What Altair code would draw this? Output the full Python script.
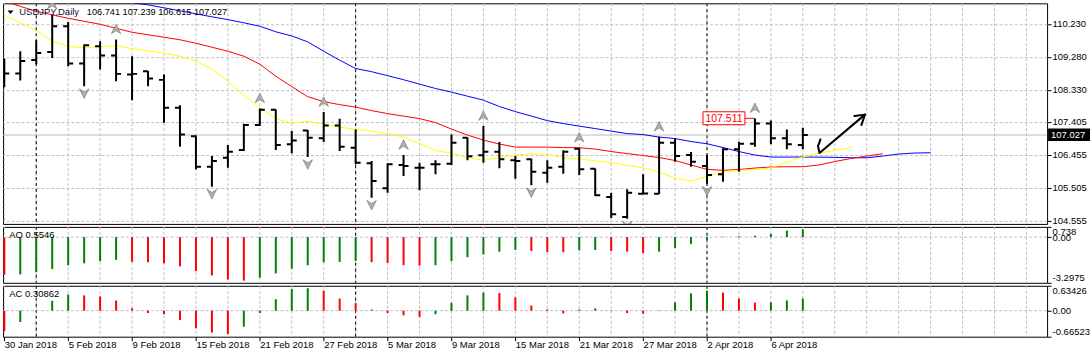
import altair as alt
import pandas as pd

# ---------------- data ----------------
dates = ["30 Jan 2018", "31 Jan 2018", "1 Feb 2018", "2 Feb 2018", "5 Feb 2018", "6 Feb 2018",
         "7 Feb 2018", "8 Feb 2018", "9 Feb 2018", "12 Feb 2018", "13 Feb 2018", "14 Feb 2018",
         "15 Feb 2018", "16 Feb 2018", "19 Feb 2018", "20 Feb 2018", "21 Feb 2018", "22 Feb 2018",
         "23 Feb 2018", "26 Feb 2018", "27 Feb 2018", "28 Feb 2018", "1 Mar 2018", "2 Mar 2018",
         "5 Mar 2018", "6 Mar 2018", "7 Mar 2018", "8 Mar 2018", "9 Mar 2018", "12 Mar 2018",
         "13 Mar 2018", "14 Mar 2018", "15 Mar 2018", "16 Mar 2018", "19 Mar 2018", "20 Mar 2018",
         "21 Mar 2018", "22 Mar 2018", "23 Mar 2018", "26 Mar 2018", "27 Mar 2018", "28 Mar 2018",
         "29 Mar 2018", "30 Mar 2018", "2 Apr 2018", "3 Apr 2018", "4 Apr 2018", "5 Apr 2018",
         "6 Apr 2018", "9 Apr 2018", "10 Apr 2018"]

opens = [108.750, 108.802, 109.194, 109.424, 110.164, 109.090, 109.588, 109.320, 108.773, 108.868,
         108.618, 107.812, 106.989, 106.114, 106.373, 106.594, 107.314, 107.754, 106.758, 107.161,
         106.931, 107.305, 106.660, 106.211, 105.492, 106.163, 106.085, 106.183, 106.200, 106.948,
         106.442, 106.545, 106.298, 106.326, 105.941, 106.114, 106.632, 106.056, 105.241, 104.665,
         105.336, 105.336, 106.804, 106.450, 106.134, 105.895, 106.614, 106.775, 107.363, 106.931,
         106.741]
highs = [109.234, 109.444, 109.761, 110.501, 110.288, 109.637, 109.732, 109.781, 109.300, 108.875,
         108.773, 107.889, 107.017, 106.421, 106.738, 107.351, 107.794, 107.766, 107.141, 107.170,
         107.688, 107.500, 107.190, 106.278, 106.211, 106.450, 106.229, 106.298, 107.046, 106.955,
         107.285, 106.824, 106.421, 106.344, 106.298, 106.585, 106.660, 106.065, 105.365, 105.463,
         105.895, 106.977, 106.931, 106.537, 106.450, 106.643, 106.833, 107.511, 107.449, 107.190,
         107.239]
lows = [108.408, 108.601, 109.070, 109.251, 109.012, 108.436, 108.917, 108.580, 108.033, 108.436,
        107.380, 106.689, 106.039, 105.538, 106.085, 106.565, 107.285, 106.594, 106.499, 106.393,
        106.824, 106.565, 106.183, 105.221, 105.365, 105.846, 105.434, 105.895, 106.163, 106.298,
        106.229, 106.067, 105.768, 105.578, 105.653, 105.912, 105.875, 105.270, 104.635, 104.615,
        105.330, 105.330, 106.257, 106.114, 105.624, 105.682, 105.970, 106.689, 106.758, 106.614,
        106.615]
closes = [108.802, 109.165, 109.395, 110.164, 109.090, 109.617, 109.320, 108.791, 108.791, 108.658,
          107.812, 107.046, 106.114, 106.278, 106.545, 107.314, 107.754, 106.738, 106.873, 106.948,
          107.305, 106.689, 106.229, 105.702, 106.183, 106.134, 106.085, 106.183, 106.804, 106.413,
          106.545, 106.326, 106.278, 105.970, 106.085, 106.545, 106.039, 105.290, 104.743, 105.365,
          105.340, 106.804, 106.421, 106.257, 105.875, 106.614, 106.775, 107.363, 106.931, 106.758,
          107.027]

# Alligator (values per bar, extending past the last bar)
jaw = [111.516, 111.430, 111.344, 111.257, 111.171, 111.084, 110.998, 110.912, 110.840, 110.782,
       110.696, 110.610, 110.523, 110.437, 110.356, 110.264, 110.163, 110.005, 109.884, 109.714,
       109.444, 109.185, 108.946, 108.854, 108.739, 108.623, 108.494, 108.370, 108.264, 108.148,
       108.033, 107.850, 107.702, 107.573, 107.443, 107.357, 107.285, 107.213, 107.141, 107.069,
       107.040, 106.968, 106.925, 106.839, 106.775, 106.666, 106.551, 106.450, 106.393, 106.390,
       106.393, 106.390, 106.384, 106.372, 106.372, 106.421, 106.479, 106.508, 106.516]
teeth = [110.883, 110.739, 110.595, 110.494, 110.394, 110.307, 110.221, 110.106, 109.991, 109.919,
         109.847, 109.775, 109.674, 109.559, 109.444, 109.300, 109.070, 108.724, 108.422, 108.134,
         107.990, 107.904, 107.832, 107.731, 107.645, 107.573, 107.501, 107.386, 107.199, 107.026,
         106.882, 106.767, 106.680, 106.680, 106.678, 106.666, 106.660, 106.623, 106.551, 106.493,
         106.436, 106.378, 106.292, 106.162, 106.038, 106.010, 106.033, 106.076, 106.105, 106.113,
         106.113, 106.162, 106.263, 106.349, 106.421, 106.488]
lips = [110.480, 110.264, 110.048, 109.732, 109.588, 109.539, 109.580, 109.602, 109.516, 109.458,
        109.386, 109.300, 109.156, 108.926, 108.580, 108.177, 107.803, 107.501, 107.363, 107.429,
        107.342, 107.256, 107.190, 107.141, 107.069, 106.968, 106.781, 106.580, 106.508, 106.378,
        106.298, 106.378, 106.450, 106.488, 106.470, 106.378, 106.335, 106.286, 106.234, 106.148,
        106.085, 105.961, 105.788, 105.702, 105.826, 105.969, 106.004, 106.033, 106.076, 106.249,
        106.393, 106.508, 106.585, 106.660]

# Bill Williams fractals (bar indices)
fractal_up = [3, 7, 16, 20, 25, 30, 36, 41, 47]
fractal_down = [5, 13, 19, 23, 33, 39, 44]

# Awesome / Accelerator oscillators
ao_vals = [-2.72, -2.69, -2.52, -2.30, -2.03, -1.89, -1.74, -1.64, -1.79, -1.81, -1.89, -2.11, -2.45,
           -2.77, -3.06, -3.14, -2.92, -2.62, -2.28, -2.03, -1.81, -1.79, -1.72, -1.81, -1.86, -2.03,
           -2.06, -2.03, -1.74, -1.45, -1.25, -1.05, -0.93, -1.00, -1.08, -1.09, -0.96, -0.93, -1.00,
           -1.05, -1.15, -1.05, -0.78, -0.49, -0.20, 0.03, 0.07, 0.10, 0.24, 0.47, 0.5546]
ac_vals = [-0.52, -0.29, 0.01, 0.25, 0.41, 0.39, 0.36, 0.26, 0.06, -0.06, -0.09, -0.24, -0.45, -0.56,
           -0.60, -0.41, -0.06, 0.29, 0.55, 0.57, 0.51, 0.31, 0.19, 0.03, -0.06, -0.12, -0.16, -0.09,
           0.20, 0.39, 0.46, 0.45, 0.34, 0.13, 0.03, -0.07, 0.03, 0.06, 0.01, -0.06, -0.08, -0.01,
           0.21, 0.44, 0.51, 0.46, 0.31, 0.205, 0.215, 0.26, 0.30862]

price_ticks = [110.230, 109.280, 108.330, 107.405, 106.455, 105.505, 104.555]
price_range = [104.464, 110.826]
ao_range = [-3.2975, 0.738]
ac_range = [-0.66523, 0.63426]

# hand-drawn arrow (bar index, price)
arrow_shaft_i = [51.106, 50.95, 51.044, 53.888]
arrow_shaft_p = [106.902, 106.709, 106.508, 107.616]
arrow_head_i = [53.231, 53.888, 53.669]
arrow_head_p = [107.573, 107.616, 107.314]

symbol_name = "USDJPY,Daily"

# ---------------- styling ----------------
FONT = "Liberation Sans"
FS = 9.5
GRID = "#c0c0c0"
DASH = [3, 2]
GREEN = "#008000"
RED = "#ff0000"

n = len(dates)
idx = list(range(n))
BAR_PX = 16.0
PLOT_W = 1046
x_left = -1.3 / BAR_PX
xscale = alt.Scale(domain=[x_left, x_left + PLOT_W / BAR_PX], nice=False, zero=False)
pscale = alt.Scale(domain=price_range, nice=False, zero=False)
aoscale = alt.Scale(domain=ao_range, nice=False, zero=False)
acscale = alt.Scale(domain=ac_range, nice=False, zero=False)

grid_idx = list(range(0, 66, 2))
sep_idx = [i for i in range(1, n) if dates[i].split(" ")[1] != dates[i - 1].split(" ")[1]]
label_idx = list(range(0, n, 4))

main_yaxis = alt.Axis(orient="right", values=price_ticks, format=".3f", grid=True, gridColor=GRID,
                      gridDash=DASH, tickSize=4, tickColor="black", labelPadding=1, domain=False,
                      labelFont=FONT, labelFontSize=FS, labelColor="black", title=None,
                      labelOverlap=False, labelFlush=False)


def osc_axis(vals):
    return alt.Axis(orient="right", values=vals, grid=False, tickSize=4, tickColor="black",
                    labelPadding=1, domain=False, labelFont=FONT, labelFontSize=FS,
                    labelColor="black", title=None, labelOverlap=False, labelFlush=True,
                    labelExpr="datum.value === 0 ? '0.00' : '' + datum.value")


ao_axis = osc_axis([ao_range[1], 0, ao_range[0]])
ac_axis = osc_axis([ac_range[1], 0, ac_range[0]])

date_expr = "[" + ",".join("'" + d + "'" for d in dates) + "][datum.value]"
date_axis = alt.Axis(values=label_idx, labelExpr=date_expr, labelAlign="left", labelBaseline="top",
                     labelFlush=False, labelOverlap=False, tickSize=4, tickColor="black",
                     labelPadding=-1, domain=False, grid=False, title=None,
                     labelFont=FONT, labelFontSize=FS, labelColor="black")


def X(field, axis=None):
    return alt.X(field, type="quantitative", scale=xscale, axis=axis)


def YP(field):
    return alt.Y(field, type="quantitative", scale=pscale, axis=main_yaxis)


# ---------------- main price panel ----------------
bars = pd.DataFrame({"i": idx, "o": opens, "h": highs, "l": lows, "c": closes})
grid_df = pd.DataFrame({"g": grid_idx})
sep_df = pd.DataFrame({"g": sep_idx})

vgrid = alt.Chart(grid_df).mark_rule(color=GRID, strokeDash=DASH, strokeWidth=1).encode(x=X("g"))
seps = alt.Chart(sep_df).mark_rule(color="black", strokeDash=[3, 3], strokeWidth=1).encode(x=X("g"))

last_df = pd.DataFrame({"p": [closes[-1]], "t": ["%.3f" % closes[-1]]})
price_line = alt.Chart(last_df).mark_rule(color="#bdbdbd", strokeWidth=1).encode(y=YP("p"))

rows = []
for name, vals, col in (("jaw", jaw, "#0000ff"), ("teeth", teeth, "#ff0000"), ("lips", lips, "#ffff00")):
    for i, v in enumerate(vals):
        rows.append({"i": i, "v": v, "line": name, "col": col})
ma_df = pd.DataFrame(rows)
ma_lines = alt.Chart(ma_df).mark_line(strokeWidth=1, clip=True).encode(
    x=X("i"), y=YP("v"), color=alt.Color("col:N", scale=None), detail="line:N", order="i:Q")

hl = alt.Chart(bars).mark_rule(color="black", strokeWidth=2, clip=True).encode(
    x=X("i"), y=YP("l"), y2="h:Q")
otick = alt.Chart(bars).mark_rule(color="black", strokeWidth=2, clip=True, xOffset=-5, x2Offset=0).encode(
    x=X("i"), x2="i:Q", y=YP("o"))
ctick = alt.Chart(bars).mark_rule(color="black", strokeWidth=2, clip=True, xOffset=0, x2Offset=5).encode(
    x=X("i"), x2="i:Q", y=YP("c"))

fu_df = pd.DataFrame({"i": fractal_up, "p": [highs[i] for i in fractal_up]})
fd_df = pd.DataFrame({"i": fractal_down, "p": [lows[i] for i in fractal_down]})
frac_up = alt.Chart(fu_df).mark_point(shape="M0,-1L1,1L0,0.35L-1,1Z", filled=True, fill="#b0b0b0",
                                      stroke="#6e6e6e", strokeWidth=0.6, size=90, opacity=1,
                                      yOffset=-10.5, clip=True).encode(x=X("i"), y=YP("p"))
frac_dn = alt.Chart(fd_df).mark_point(shape="M0,1L1,-1L0,-0.35L-1,-1Z", filled=True, fill="#b0b0b0",
                                      stroke="#6e6e6e", strokeWidth=0.6, size=90, opacity=1,
                                      yOffset=7.5, clip=True).encode(x=X("i"), y=YP("p"))

lab_df = pd.DataFrame({"i": [47], "p": [highs[47]], "t": ["%.3f" % highs[47]]})
lab_line = alt.Chart(lab_df).mark_rule(color=RED, strokeWidth=1, xOffset=-10, x2Offset=-1).encode(
    x=X("i"), x2="i:Q", y=YP("p"))
lab_box = alt.Chart(lab_df).mark_rect(fill="white", stroke=RED, strokeWidth=1, xOffset=-52, x2Offset=-10,
                                      yOffset=-6.5, y2Offset=6.5).encode(
    x=X("i"), x2="i:Q", y=YP("p"), y2="p:Q")
lab_txt = alt.Chart(lab_df).mark_text(color=RED, font=FONT, fontSize=10.5, align="center",
                                      baseline="middle", dx=-31, dy=0.5).encode(
    x=X("i"), y=YP("p"), text="t:N")

arrow_df = pd.DataFrame({
    "i": arrow_shaft_i + arrow_head_i,
    "p": arrow_shaft_p + arrow_head_p,
    "seg": ["shaft"] * len(arrow_shaft_i) + ["head"] * len(arrow_head_i),
    "k": list(range(len(arrow_shaft_i))) + list(range(len(arrow_head_i))),
})
hand_arrow = alt.Chart(arrow_df).mark_line(color="black", strokeWidth=2, strokeJoin="round",
                                           strokeCap="round").encode(
    x=X("i"), y=YP("p"), detail="seg:N", order="k:Q")

ohlc_str = "%.3f %.3f %.3f %.3f" % (opens[-1], highs[-1], lows[-1], closes[-1])
hdr_df = pd.DataFrame({"t": [symbol_name], "q": [ohlc_str]})
hdr_txt = alt.Chart(hdr_df).mark_text(align="left", baseline="middle", font=FONT, fontSize=9.5,
                                      color="#101030").encode(x=alt.value(16.3), y=alt.value(9), text="t:N")
hdr_ohlc = alt.Chart(hdr_df).mark_text(align="left", baseline="middle", font=FONT, fontSize=9.2,
                                       color="black").encode(x=alt.value(84), y=alt.value(9), text="q:N")
hdr_tri = alt.Chart(hdr_df).mark_point(shape="M-1,-0.6L1,-0.6L0,0.6Z", filled=True, color="black",
                                       size=36, opacity=1).encode(x=alt.value(7.5), y=alt.value(9))

pbox = alt.Chart(last_df).mark_rect(color="black", yOffset=-6.5, y2Offset=6).encode(
    x=alt.value(1047), x2=alt.value(1089), y=YP("p"), y2="p:Q")
ptxt = alt.Chart(last_df).mark_text(color="white", font=FONT, fontSize=FS, align="left",
                                    baseline="middle", dy=0).encode(
    x=alt.value(1050), y=YP("p"), text="t:N")

main = alt.layer(vgrid, seps, price_line, ma_lines, hl, otick, ctick, frac_up, frac_dn,
                 lab_line, lab_box, lab_txt, hand_arrow, hdr_txt, hdr_ohlc, hdr_tri, pbox, ptxt).properties(
    width=PLOT_W, height=221)


# ---------------- oscillator panels ----------------
def colours(vals):
    out = [RED]
    for k in range(1, len(vals)):
        out.append(GREEN if vals[k] > vals[k - 1] else RED)
    return out


def osc_panel(vals, scale, axis, xaxis, label, height):
    df = pd.DataFrame({"i": idx, "v": vals, "col": colours(vals)})
    g = alt.Chart(grid_df).mark_rule(color=GRID, strokeDash=DASH, strokeWidth=1).encode(x=X("g", xaxis))
    s = alt.Chart(sep_df).mark_rule(color="black", strokeDash=[3, 3], strokeWidth=1).encode(x=X("g", xaxis))
    z = alt.Chart(pd.DataFrame({"z": [0.0]})).mark_rule(color=GRID, strokeDash=DASH, strokeWidth=1).encode(
        y=alt.Y("z:Q", scale=scale, axis=axis))
    b = alt.Chart(df).mark_rule(strokeWidth=2).encode(
        x=X("i", xaxis), y=alt.Y("v:Q", scale=scale, axis=axis), y2=alt.datum(0),
        color=alt.Color("col:N", scale=None))
    t = alt.Chart(pd.DataFrame({"t": [label]})).mark_text(
        align="left", baseline="middle", font=FONT, fontSize=FS, color="black").encode(
        x=alt.value(6.3), y=alt.value(8.5), text="t:N")
    return alt.layer(g, s, z, b, t).properties(width=PLOT_W, height=height)


ao = osc_panel(ao_vals, aoscale, ao_axis, None, "AO %s" % ao_vals[-1], 56)
ac = osc_panel(ac_vals, acscale, ac_axis, date_axis, "AC %s" % ac_vals[-1], 51)

chart = alt.vconcat(main, ao, ac, spacing=3, bounds="flush").resolve_scale(
    x="independent", y="independent").properties(
    padding={"left": 2, "top": 2, "right": 0, "bottom": 0}, background="white").configure_view(
    stroke="black", strokeWidth=1)

chart.save("out.html", embed_options={"renderer": "svg", "actions": False})
